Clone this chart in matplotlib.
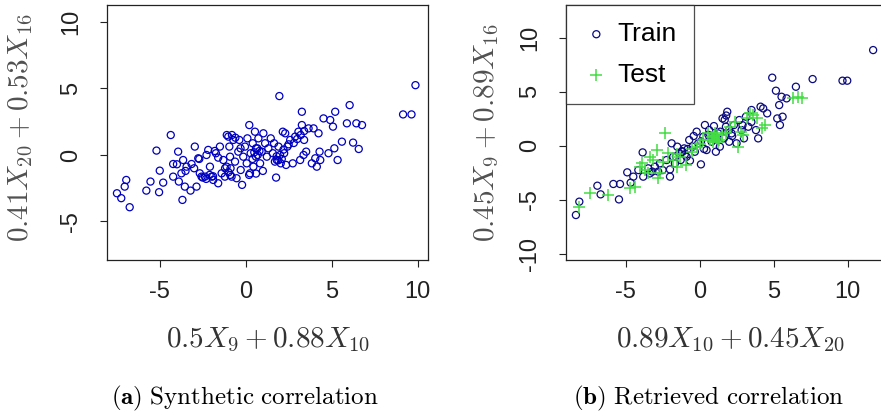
import matplotlib
matplotlib.use("Agg")
import matplotlib.pyplot as plt

plt.rcParams['mathtext.fontset'] = 'cm'
plt.rcParams['font.family'] = ['Liberation Sans', 'DejaVu Sans']

# (a) synthetic correlation: 0.5X9+0.88X10 vs 0.41X20+0.53X16
syn_x = [-7.49, -7.24, -7.04, -6.95, -6.75, -5.78, -5.54, -5.04, -5.19, -5.0, -4.8, -4.36,
         -4.22, -4.22, -3.93, -3.89, -3.74, -3.68, -3.64, -3.54, -3.44, -3.21, -3.15, -2.96,
         -2.86, -2.76, -2.67, -2.57, -2.37, -2.28, -2.18, -2.08, -1.98, -1.89, -1.73, -1.60,
         -1.50, -1.40, -1.30, -1.21, -1.11, -1.01, -0.95, -0.91, -0.88, -0.82, -0.72, -0.62,
         -0.53, -0.43, -0.37, -0.29, -0.21, -0.14, -0.04, 0.06, 0.10, 0.21, 0.25, 0.29, 0.41,
         0.45, 0.54, 0.60, 0.68, 0.74, 0.84, 0.93, 1.03, 1.13, 1.23, 1.32, 1.46, 1.58, 1.65,
         1.77, 1.81, 1.91, 1.96, 2.04, 2.16, 2.24, 2.30, 2.35, 2.43, 2.59, 2.74, 2.88, 3.07,
         3.17, 3.27, 3.27, 3.37, 3.40, 3.52, 3.66, 3.85, 3.95, 4.05, 4.14, 4.24, 4.30, 4.34,
         4.53, 4.82, 4.92, 5.08, 5.16, 5.21, 5.35, 5.60, 5.89, 6.05, 6.25, 6.44, 6.58, 6.77,
         9.16, 9.65, 9.88,
         -2.3, -2.1, -2.5, -1.9, -1.2, -1.0, -0.9, 0.5, 0.6, 0.7, 0.8, 0.4, 1.8, 1.9, 2.0,
         2.1, 1.7, 2.2, 2.5, 2.8, 3.0, 3.2, 3.4, -0.6, -0.8, -1.1, -0.3, 0.2, 0.6, 1.0, -3.0,
         -3.5, -4.0, -2.7, -1.6, -1.8]
syn_y = [-2.88, -3.25, -2.38, -1.88, -3.93, -2.68, -2.0, -2.8, 0.33, -1.18, -2.08, 1.5,
         -0.68, -1.63, 0.25, -2.0, -1.38, -3.38, -0.38, -2.38, -0.88, -2.68, -0.68, 0.63,
         -2.38, -0.25, -1.38, -1.63, -1.63, 0.0, 0.38, -0.88, -1.63, -1.88, 0.13, -2.13,
         0.63, -1.38, -0.38, -1.63, -0.88, 1.38, 0.63, -0.13, -1.0, -1.63, 1.13, -0.5,
         -1.75, 0.25, 1.13, -1.13, -2.25, -0.13, 0.63, -0.63, 1.25, 2.25, -1.38, 0.13, 0.88,
         -0.88, 1.75, -0.13, 0.5, 1.25, -0.63, 0.25, 1.63, 0.88, -0.13, 0.5, 1.25, 0.13, 0.88,
         -1.7, -0.38, 0.63, 4.43, -0.63, 1.75, 0.13, 1.63, -0.75, 0.63, 1.13, -0.63, 1.38, 1.75,
         -0.38, 3.25, 2.25, 0.0, 1.13, 0.25, 2.0, -0.63, 2.0, -0.25, -0.88, 1.63, 0.25, -0.38,
         2.75, 0.13, 2.63, 2.13, 0.5, 3.25, -0.38, 1.0, 2.38, 3.75, 0.93, 2.38, 0.45, 2.25,
         3.05, 3.05, 5.25,
         -1.8, -1.5, -1.7, -1.6, -1.0, -1.3, -1.5, 0.2, 0.5, 0.0, 0.3, -0.3, -0.1, -0.4, 0.0,
         -0.3, -0.5, 0.4, 0.8, 0.9, 1.2, 1.5, 1.8, 1.3, 1.5, 1.5, 0.5, -1.5, -1.4, -1.2, -1.0,
         -1.2, -0.7, -0.3, -0.2, 0.3]

# (b) retrieved correlation: 0.89X10+0.45X20 vs 0.45X9+0.89X16
train_x = [-8.36, -8.13, -6.91, -6.69, -5.83, -5.38, -5.45, -4.89, -4.66, -4.48, -4.14, -3.85,
           -3.81, -3.47, -3.36, -3.02, -2.68, -2.50, -2.23, -2.0, -1.89, -1.78, -1.67, -1.51,
           -1.37, -1.28, -1.15, -1.04, -0.88, -0.70, -0.65, -0.47, -0.32, -0.20, -0.09, 0.09,
           0.25, 0.36, 0.47, 0.65, 0.81, 0.97, 1.10, 1.26, 1.37, 1.55, 1.64, 1.78, 1.87, 2.00,
           2.16, 2.32, 2.50, 2.68, 2.84, 3.0, 3.13, 3.29, 3.51, 3.81, 3.96, 4.12, 4.30, 4.57,
           4.91, 5.16, 5.25, 5.38, 5.43, 5.54, 5.61, 5.88, 6.51, 7.64, 9.66, 9.98, 11.73,
           0.9, 1.1, 1.7, 1.8, -1.0, -0.8, -1.2, 0.6, 2.2, 2.9, 3.5, -2.0, -2.8, -3.2, -1.6,
           0.1, 0.3, -0.4, 2.0, 1.4]
train_y = [-6.43, -5.19, -3.71, -4.51, -3.55, -3.55, -4.98, -2.47, -3.43, -2.87, -2.26, -0.62,
           -2.87, -2.10, -2.57, -1.95, -1.64, -2.26, -1.33, -2.87, 0.22, -1.02, -1.64, -0.09,
           -0.71, -1.33, -0.56, -0.25, -1.02, 0.53, -1.39, -0.09, -0.56, 1.30, 0.22, -1.73,
           0.83, 1.92, -0.40, 1.45, 0.37, 1.82, -0.56, 1.14, -0.09, 2.53, 0.68, 1.76, 3.15, 0.37,
           1.14, 1.92, 0.22, 2.38, 1.45, 0.68, 2.69, 1.76, 3.31, 1.45, 0.68, 3.62, 3.46, 3.0,
           6.31, 5.10, 2.53, 3.77, 1.92, 4.54, 2.69, 4.39, 5.47, 6.18, 6.03, 6.03, 8.87,
           0.8, 0.6, 2.4, 2.8, -0.8, -0.3, -0.5, 1.0, 0.9, 1.9, 2.2, -2.2, -2.4, -2.4, -1.0,
           0.4, -0.3, 0.9, 1.5, 1.3]
test_x = [-8.13, -7.41, -6.17, -4.71, -4.37, -3.92, -3.69, -3.36, -3.13, -2.91, -2.79, -2.68,
          -2.34, -2.12, -1.78, -1.55, -1.33, -0.92, -0.54, -0.20, 0.25, 0.59, 0.81, 0.92, 1.04,
          1.15, 1.26, 1.49, 2.05, 2.39, 2.61, 2.95, 3.40, 3.63, 3.85, 4.19, 4.41, 6.33, 6.67,
          6.89,
          0.7, 1.0, 1.2, 0.9, 1.3, -4.0, -3.5, -2.5, -1.5, -0.5, 0.0, 1.8, 3.2, 2.8]
test_y = [-5.66, -4.42, -4.57, -3.96, -3.80, -1.64, -2.26, -1.02, -1.33, -0.40, -3.03, -2.57,
          1.14, -0.71, -1.33, -1.95, -1.02, -1.79, -0.56, -0.09, 0.53, 1.14, 0.83, 0.53, 1.14,
          0.68, 0.37, 0.99, 1.76, 2.23, -0.09, 0.99, 3.0, 2.84, 2.53, 1.61, 1.92, 4.39, 4.54,
          4.39,
          0.5, 0.9, 1.0, 0.3, 0.5, -2.0, -2.5, -1.5, -0.8, -0.3, 0.2, 1.2, 2.6, 1.3]

ticks_a = [-5, 0, 5, 10]
ticks_b_y = [-10, -5, 0, 5, 10]

W, H = 881, 420
fig = plt.figure(figsize=(W / 100, H / 100), dpi=100)

def px_axes(left, top, right, bottom):
    return fig.add_axes([left / W, 1 - bottom / H, (right - left) / W, (bottom - top) / H])

def style(ax, xt, yt):
    ax.set_xticks(xt)
    ax.set_yticks(yt)
    ax.set_xticklabels([str(t) for t in xt])
    ax.set_yticklabels([str(t) for t in yt])
    ax.tick_params(direction='out', length=5, width=0.8, labelsize=17, colors='#222222')
    ax.tick_params(axis='x', pad=10)
    ax.tick_params(axis='y', pad=13)
    for lab in ax.get_yticklabels():
        lab.set_rotation(90)
        lab.set_va('center')
    for s in ax.spines.values():
        s.set_linewidth(0.9)
        s.set_color('#222222')

ax1 = px_axes(107, 5, 428, 260)
ax1.scatter(syn_x, syn_y, s=26, facecolors='none', edgecolors='#0000c0', linewidths=0.9)
ax1.set_xlim(-8.07, 10.61)
ax1.set_ylim(-7.9, 11.28)
style(ax1, ticks_a, ticks_a)

ax2 = px_axes(566, 5, 886, 260)
ax2.scatter(train_x, train_y, s=26, facecolors='none', edgecolors='#0a0a80', linewidths=0.9,
            label='Train')
ax2.scatter(test_x, test_y, s=75, marker='+', color='#44dd44', linewidths=1.1, label='Test')
ax2.set_xlim(-9.03, 12.6)
ax2.set_ylim(-10.6, 13.05)
style(ax2, ticks_a, ticks_b_y)
leg = ax2.legend(loc='upper left', fontsize=19, frameon=True, fancybox=False, borderaxespad=0,
                 handlelength=1.0, handletextpad=0.3, borderpad=0.65, labelspacing=0.65,
                 scatterpoints=1)
leg.get_frame().set_edgecolor('#222222')
leg.get_frame().set_linewidth(0.9)

lab_col = '#505050'
fig.text(21 / W, 1 - 128 / H, r'$0.41X_{20}+0.53X_{16}$', rotation=90, ha='center', va='center',
         fontsize=21, color=lab_col)
fig.text(268 / W, 1 - 340 / H, r'$0.5X_9+0.88X_{10}$', ha='center', va='center',
         fontsize=21, color='#333333')
fig.text(487 / W, 1 - 133 / H, r'$0.45X_9+0.89X_{16}$', rotation=90, ha='center', va='center',
         fontsize=21, color=lab_col)
fig.text(730 / W, 1 - 340 / H, r'$0.89X_{10}+0.45X_{20}$', ha='center', va='center',
         fontsize=21, color='#333333')
fig.text(245 / W, 1 - 398 / H, r'$\mathbf{(a)}\ \mathrm{Synthetic\ correlation}$',
         ha='center', va='center', fontsize=18, color='black')
fig.text(709 / W, 1 - 398 / H, r'$\mathbf{(b)}\ \mathrm{Retrieved\ correlation}$',
         ha='center', va='center', fontsize=18, color='black')

fig.savefig('out.png', dpi=100)
